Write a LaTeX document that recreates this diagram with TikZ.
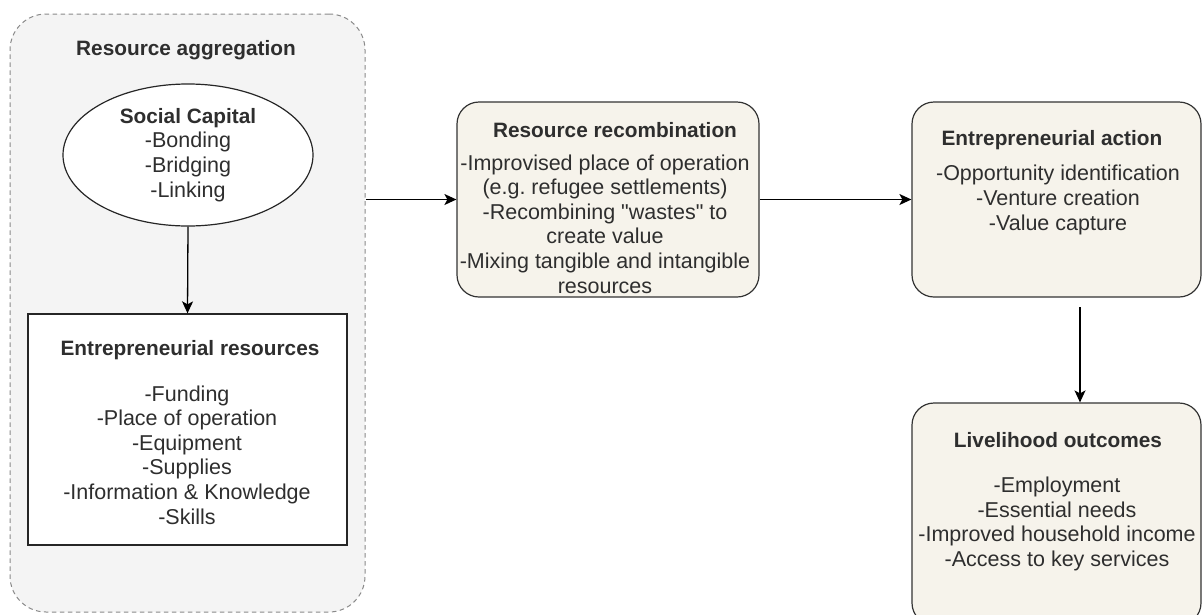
\documentclass[tikz,border=0pt]{standalone}
\usepackage{fontspec}
\newfontfamily\lsans{Liberation Sans}
\usetikzlibrary{shapes.geometric,arrows.meta}
\definecolor{aggfill}{HTML}{F4F4F4}
\definecolor{aggline}{HTML}{8A8A8A}
\definecolor{beige}{HTML}{F6F3EB}
\definecolor{txt}{HTML}{2E2E2E}
\tikzset{
  every node/.style={text=txt},
  body/.style={align=center, font=\lsans\fontsize{21.5}{24.6}\selectfont, inner sep=0pt},
  ttl/.style={align=center, font=\lsans\fontsize{20.8}{24.6}\selectfont\bfseries, inner sep=0pt},
  aggbox/.style={draw=aggline, fill=aggfill, dash pattern=on 4.5pt off 3.5pt, line width=1pt, rounded corners=36pt, minimum width=355pt, minimum height=598pt, inner sep=0pt},
  stepbox/.style={draw=black!80, fill=beige, line width=1.2pt, rounded corners=22pt, inner sep=0pt},
  plainbox/.style={draw=black!85, fill=white, line width=1.3pt, minimum width=319pt, minimum height=231pt, inner sep=0pt},
  ell/.style={ellipse, draw=black!85, fill=white, line width=1.2pt, minimum width=250pt, minimum height=142pt, inner sep=0pt},
  arr/.style={line width=1.3pt, -{Stealth[length=12pt,width=11pt,inset=3pt]}},
}
\begin{document}
\begin{tikzpicture}[x=1pt,y=-1pt]
\useasboundingbox (0,0) rectangle (1203,614);
% outer aggregation box
\node[aggbox] (agg) at (187.5,313) {};
\node[ttl] (aggt) at (186,50) {Resource aggregation};
% social capital
\node[ell] (soc) at (188,155) {};
\node[ttl] (soct) at (188,118) {Social Capital};
\node[body] (socb) at (188,167) {-Bonding\\-Bridging\\-Linking};
% entrepreneurial resources
\node[plainbox] (res) at (187.5,429.5) {};
\node[ttl] (rest) at (190,350) {Entrepreneurial resources};
\node[body] (resb) at (187,455) {-Funding\\-Place of operation\\-Equipment\\-Supplies\\-Information \& Knowledge\\-Skills};
% recombination
\node[stepbox, minimum width=302pt, minimum height=195pt] (rec) at (608,199.5) {};
\node[ttl] (rect) at (615,130) {Resource recombination};
\node[body] (recb) at (605,224) {-Improvised place of operation\\(e.g.\ refugee settlements)\\-Recombining "wastes" to\\create value\\-Mixing tangible and intangible\\resources};
% action
\node[stepbox, minimum width=289pt, minimum height=195pt] (act) at (1056.5,199.5) {};
\node[ttl] (actt) at (1052,140) {Entrepreneurial action};
\node[body] (actb) at (1058,200) {-Opportunity identification\\-Venture creation\\-Value capture};
% livelihood
\node[stepbox, minimum width=289pt, minimum height=222pt] (liv) at (1056.5,514) {};
\node[ttl] (livt) at (1058,440) {Livelihood outcomes};
\node[body] (livb) at (1057,524) {-Employment\\-Essential needs\\-Improved household income\\-Access to key services};
% connectors
\draw[arr] (soc.south) -- (res.north);
\draw[arr] (agg.east |- rec.west) -- (rec.west);
\draw[arr] (rec.east) -- (act.west);
\coordinate (a1) at (1080,307);
\draw[arr] (a1) -- (a1 |- liv.north);
\end{tikzpicture}
\end{document}
